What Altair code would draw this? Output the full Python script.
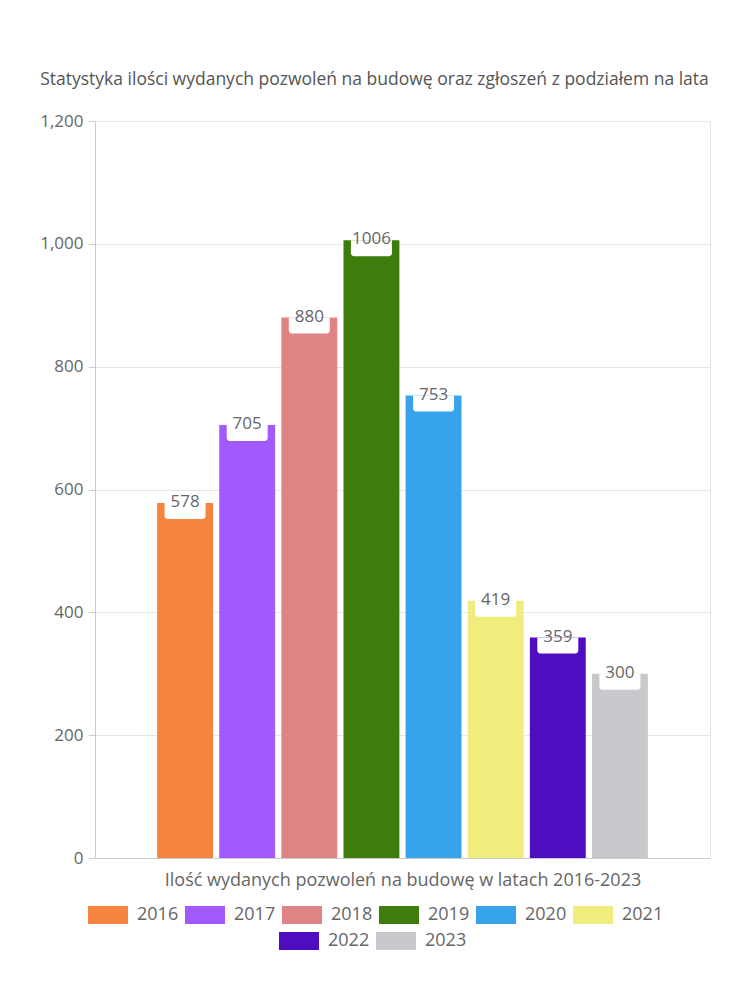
import altair as alt
import pandas as pd

years = ["2016", "2017", "2018", "2019", "2020", "2021", "2022", "2023"]
values = [578, 705, 880, 1006, 753, 419, 359, 300]
colors = ["#F5843F", "#A259FD", "#E08384", "#3E7C0E", "#37A3EA", "#F0EC7E", "#500DC0", "#C9C9CD"]
y_ticks = [0, 200, 400, 600, 800, 1000, 1200]

title_text = "Statystyka ilości wydanych pozwoleń na budowę oraz zgłoszeń z podziałem na lata"
x_title = "Ilość wydanych pozwoleń na budowę w latach 2016-2023"

FONT = "Open Sans"
TXT = "#666666"

df = pd.DataFrame({"year": years, "value": values})
df["year_a"] = df["year"]
df["year_b"] = df["year"]

first = years[:6]
second = years[6:]

rect_path = "M-1,-0.45H1V0.45H-1Z"

x_enc = alt.X(
    "year:N",
    sort=years,
    scale=alt.Scale(domain=years, paddingInner=0.1, paddingOuter=1),
    axis=alt.Axis(
        title=x_title, labels=False, ticks=False, domain=True, domainColor="#cccccc",
        titleFont=FONT, titleFontSize=18, titleFontWeight="normal", titleColor=TXT,
        titlePadding=13, grid=False,
    ),
)
y_enc = alt.Y(
    "value:Q",
    scale=alt.Scale(domain=[0, 1200], nice=False),
    axis=alt.Axis(
        title=None, values=y_ticks, format=",.0f", tickSize=7, tickColor="#cccccc",
        domainColor="#cccccc", gridColor="#e6e6e6", labelFont=FONT, labelFontSize=17,
        labelColor=TXT, labelPadding=5,
    ),
)

base = alt.Chart(df)

legend_common = dict(
    direction="horizontal", orient="none", title=None, symbolType=rect_path,
    symbolSize=1600, symbolStrokeWidth=0, symbolOpacity=1, labelFont=FONT,
    labelFontSize=18, labelColor=TXT, labelOffset=9, columnPadding=6, padding=0,
)

bars_a = base.transform_filter(
    alt.FieldOneOfPredicate(field="year", oneOf=first)
).mark_bar().encode(
    x=x_enc,
    y=y_enc,
    color=alt.Color(
        "year_a:N",
        scale=alt.Scale(domain=first, range=colors[:6]),
        legend=alt.Legend(legendX=-7, legendY=774, **legend_common),
    ),
)

bars_b = base.transform_filter(
    alt.FieldOneOfPredicate(field="year", oneOf=second)
).mark_bar().encode(
    x=x_enc,
    y=y_enc,
    fill=alt.Fill(
        "year_b:N",
        scale=alt.Scale(domain=second, range=colors[6:]),
        legend=alt.Legend(legendX=184, legendY=800, **legend_common),
    ),
)

boxes = base.mark_bar(
    color="white", width=41, cornerRadiusBottomLeft=3, cornerRadiusBottomRight=3, y2Offset=16
).encode(
    x=alt.X("year:N", sort=years),
    y=alt.Y("value:Q"),
    y2=alt.Y2("value"),
)

labels = base.mark_text(
    baseline="middle", font=FONT, fontSize=17, color=TXT, dy=-1
).encode(
    x=alt.X("year:N", sort=years),
    y=alt.Y("value:Q"),
    text=alt.Text("value:Q"),
)

chart = alt.layer(bars_a, bars_b, boxes, labels).resolve_legend(
    color="independent", fill="independent"
).properties(
    width=615,
    height=737,
    title=alt.Title(
        title_text, font=FONT, fontSize=17.5, fontWeight="normal", color="#555555",
        anchor="middle", dx=-28, baseline="bottom", offset=6,
    ),
    autosize=alt.AutoSizeParams(type="none"),
    padding={"left": 95, "top": 121, "right": 40, "bottom": 142},
    background="white",
).configure_view(stroke="#e6e6e6")

chart.save("out.html", embed_options={"renderer": "svg", "actions": False})
